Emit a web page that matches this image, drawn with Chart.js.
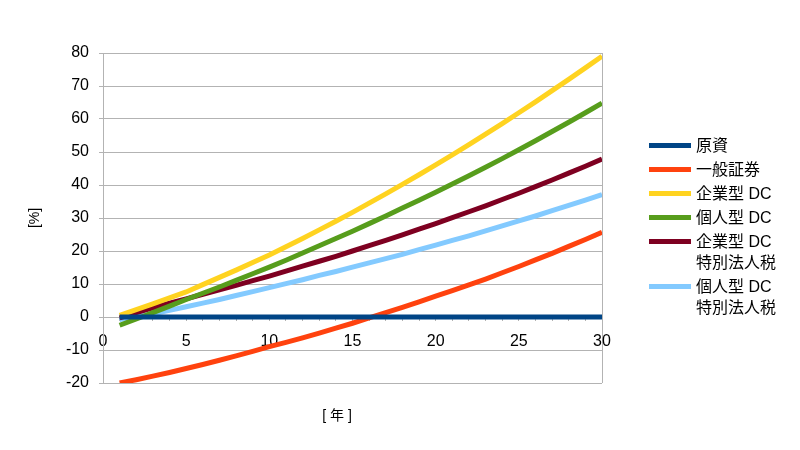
<!DOCTYPE html>
<html>
<head>
<meta charset="utf-8">
<script src="https://cdn.jsdelivr.net/npm/chart.js@4.4.0/dist/chart.umd.min.js"></script>
<style>
  body { margin: 0; background: #fff; }
  .wrap { position: relative; width: 800px; height: 450px; }
  #legend { position: absolute; left: 649px; top: 135px; font-family: "Liberation Sans", "Noto Sans CJK JP", sans-serif; font-size: 16px; color: #000; }
  #legend .item { display: flex; align-items: flex-start; margin-bottom: 3px; line-height: 21px; }
  #legend .swatch { width: 42px; height: 5px; margin-top: 8px; margin-right: 5px; }
  #legend .txt { white-space: pre-line; }
</style>
</head>
<body>
<div class="wrap">
  <canvas id="chart" width="800" height="450"></canvas>
  <div id="legend"></div>
</div>
<script>
// years on the x axis
const years = [1,2,3,4,5,6,7,8,9,10,11,12,13,14,15,16,17,18,19,20,21,22,23,24,25,26,27,28,29,30];

// series values [%]
const genshi = years.map(() => 0);
const ippanShoken = [-20.0,-19.0,-17.9,-16.8,-15.6,-14.4,-13.1,-11.8,-10.4,-9.0,-7.7,-6.3,-4.9,-3.4,-1.9,-0.3,1.3,2.9,4.6,6.3,8.0,9.7,11.5,13.4,15.3,17.3,19.3,21.4,23.5,25.7];
const kigyoDC = [0.5,2.2,4.0,5.8,7.6,9.8,12.0,14.2,16.5,18.8,21.3,23.8,26.4,29.0,31.7,34.5,37.3,40.2,43.1,46.1,49.1,52.2,55.4,58.6,61.9,65.2,68.6,72.0,75.5,79.0];
const kojinDC = [-2.5,-0.6,1.3,3.3,5.3,7.2,9.1,11.1,13.1,15.1,17.2,19.4,21.6,23.8,26.0,28.3,30.6,33.0,35.4,37.8,40.3,42.8,45.4,48.0,50.7,53.4,56.2,59.0,61.9,64.8];
const kigyoDCTax = [-0.3,1.3,2.8,4.2,5.5,6.9,8.2,9.6,11.0,12.4,13.9,15.4,16.9,18.4,20.0,21.6,23.2,24.9,26.6,28.3,30.1,31.9,33.7,35.6,37.5,39.5,41.5,43.6,45.7,47.9];
const kojinDCTax = [-0.8,0.1,1.0,2.0,3.1,4.2,5.3,6.5,7.7,8.9,10.1,11.3,12.6,13.8,15.1,16.4,17.7,19.0,20.4,21.8,23.2,24.6,26.1,27.6,29.1,30.6,32.2,33.8,35.4,37.1];

const seriesLabels = ['原資', '一般証券', '企業型 DC', '個人型 DC', '企業型 DC\n特別法人税', '個人型 DC\n特別法人税'];
const seriesValues = [genshi, ippanShoken, kigyoDC, kojinDC, kigyoDCTax, kojinDCTax];
const seriesColors = ['#004586', '#ff420e', '#ffd320', '#579d1c', '#7e0021', '#83caff'];

const FONT = '"Liberation Sans", "Noto Sans CJK JP", sans-serif';
const GRID = '#b3b3b3';

const datasets = seriesValues.map((vals, i) => ({
    label: seriesLabels[i],
    data: years.map((x, j) => ({ x: x, y: vals[j] })),
    borderColor: seriesColors[i],
    backgroundColor: seriesColors[i],
    borderWidth: 5,
    pointRadius: 0,
    tension: 0,
    fill: false
}));

// axis titles drawn at fixed spots, like the original
const axisTitles = {
    id: 'axisTitles',
    afterDraw(chart) {
        const c = chart.ctx;
        c.save();
        c.fillStyle = '#000';
        c.font = '14px ' + FONT;
        c.textAlign = 'center';
        c.textBaseline = 'middle';
        c.fillText('[ 年 ]', 337, 416);
        c.translate(35, 218);
        c.rotate(-Math.PI / 2);
        c.fillText('[%]', 0, 0);
        c.restore();
    }
};

const ctx = document.getElementById('chart').getContext('2d');
const chart = new Chart(ctx, {
    type: 'line',
    data: { datasets: datasets },
    options: {
        responsive: false,
        animation: false,
        layout: { padding: { left: 0, right: 198, top: 53, bottom: 0 } },
        plugins: { legend: { display: false }, tooltip: { enabled: false } },
        scales: {
            x: {
                type: 'linear',
                position: 'bottom',
                min: 0,
                max: 30,
                afterFit: s => { s.height = 67; },
                ticks: { display: false, stepSize: 30 },
                grid: {
                    color: c => (c.tick && c.tick.value === 30) ? GRID : 'rgba(0,0,0,0)',
                    drawTicks: false
                },
                border: { display: false }
            },
            x0: {
                type: 'linear',
                position: { y: 0 },
                min: 0,
                max: 30,
                ticks: {
                    stepSize: 1,
                    autoSkip: false,
                    maxRotation: 0,
                    padding: 12,
                    color: '#000',
                    font: { family: FONT, size: 16 },
                    callback: v => (v % 5 === 0 ? String(v) : '')
                },
                grid: { drawOnChartArea: false, tickLength: 3, color: GRID },
                border: { color: GRID }
            },
            y: {
                min: -20,
                max: 80,
                afterFit: s => { s.width = 103; },
                ticks: {
                    stepSize: 10,
                    padding: 10,
                    color: '#000',
                    font: { family: FONT, size: 16 }
                },
                grid: { color: GRID, tickLength: 4 },
                border: { color: GRID }
            }
        }
    },
    plugins: [axisTitles]
});

// legend built from the datasets
const legend = document.getElementById('legend');
legend.innerHTML = datasets.map(ds => `
    <div class="item">
        <div class="swatch" style="background:${ds.borderColor}"></div>
        <div class="txt">${ds.label}</div>
    </div>
`).join('');
</script>
</body>
</html>
